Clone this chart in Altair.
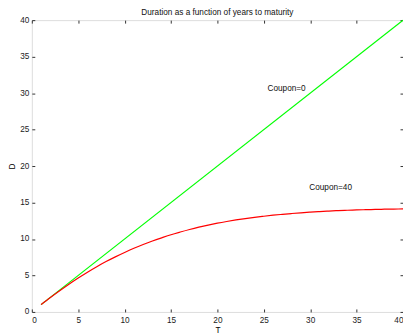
import altair as alt
import pandas as pd

# Data
T_red = list(range(1, 41))
D_red = [1.00, 1.97, 2.90, 3.80, 4.65, 5.45, 6.20, 6.90, 7.55, 8.15,
         8.72, 9.24, 9.72, 10.16, 10.58, 10.95, 11.30, 11.62, 11.91, 12.17,
         12.40, 12.61, 12.80, 12.97, 13.12, 13.26, 13.38, 13.49, 13.59, 13.68,
         13.76, 13.83, 13.89, 13.94, 13.98, 14.02, 14.05, 14.08, 14.10, 14.12]
T_green = [1, 40]
D_green = [1, 40]

label_text = ["Coupon=0", "Coupon=40"]
label_T = [25.4, 29.9]
label_D = [30.6, 17.0]

tick_values = list(range(0, 41, 5))

rows = [{"T": t, "D": d, "series": "Coupon=0"} for t, d in zip(T_green, D_green)]
rows += [{"T": t, "D": d, "series": "Coupon=40"} for t, d in zip(T_red, D_red)]
df = pd.DataFrame(rows)
labels = pd.DataFrame({"T": label_T, "D": label_D, "text": label_text})

FONT = "Liberation Sans"
xscale = alt.Scale(domain=[0, 40], nice=False, zero=False)
yscale = alt.Scale(domain=[0, 40], nice=False, zero=False)

common_axis = dict(values=tick_values, domain=False, tickSize=3, offset=-3,
                   tickColor="#333333", tickWidth=1, grid=False,
                   labelFont=FONT, labelFontSize=8.3, labelColor="#222222",
                   titleFont=FONT, titleFontSize=8.3, titleFontWeight="normal",
                   titleColor="#000000")

lines = alt.Chart(df).mark_line(strokeWidth=1.2, interpolate="monotone").encode(
    x=alt.X("T:Q", scale=xscale,
            axis=alt.Axis(title="T", orient="bottom", labelPadding=4,
                          titlePadding=1, **common_axis)),
    y=alt.Y("D:Q", scale=yscale,
            axis=alt.Axis(title="D", orient="left", labelPadding=3,
                          titlePadding=3, **common_axis)),
    color=alt.Color("series:N",
                    scale=alt.Scale(domain=["Coupon=0", "Coupon=40"],
                                    range=["#00ff00", "#ff0000"]),
                    legend=None),
    detail="series:N",
)

texts = alt.Chart(labels).mark_text(align="left", baseline="middle", font=FONT,
                                    fontSize=8.3, color="#111111").encode(
    x=alt.X("T:Q", scale=xscale,
            axis=alt.Axis(title=None, orient="top", labels=False, **common_axis)),
    y=alt.Y("D:Q", scale=yscale,
            axis=alt.Axis(title=None, orient="right", labels=False, **common_axis)),
    text="text:N",
)

chart = alt.layer(lines, texts).resolve_axis(x="independent", y="independent").properties(
    width=374,
    height=294,
    autosize=alt.AutoSizeParams(type="none"),
    padding={"left": 24, "top": 11, "right": 0, "bottom": 20},
    title=alt.TitleParams("Duration as a function of years to maturity",
                          font=FONT, fontSize=8.3, fontWeight="normal",
                          color="#111111", offset=-1, anchor="middle"),
).configure_view(stroke="#000000", strokeWidth=2).configure(background="white")

chart.save("out.html", embed_options={"renderer": "svg", "actions": False})
